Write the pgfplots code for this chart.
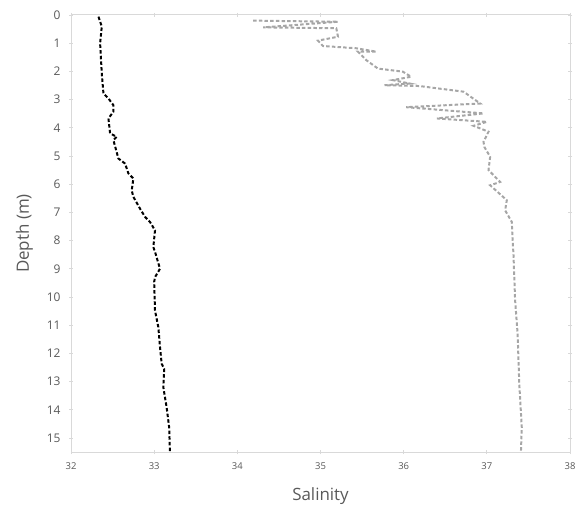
\documentclass[border=0pt]{standalone}
\usepackage{fontspec}
\setmainfont{Open Sans}
\usepackage{pgfplots}
\pgfplotsset{compat=1.18}
\definecolor{txtgray}{HTML}{595959}
\definecolor{axgray}{HTML}{D9D9D9}
\definecolor{sergray}{HTML}{A6A6A6}

\begin{document}
\begin{tikzpicture}[x=1bp,y=1bp]
\path (0,0) rectangle (584,516);
\begin{axis}[
  at={(71bp,64bp)}, anchor=south west,
  scale only axis,
  width=499bp, height=437bp,
  xmin=32, xmax=38,
  ymin=0, ymax=15.5,
  y dir=reverse,
  xtick={32,33,...,38},
  ytick={0,1,...,15},
  axis line style={axgray, line width=1pt},
  tick style={axgray, line width=0.8pt},
  major tick length=4bp,
  tick align=center,
  /pgf/number format/assume math mode=true,
  x tick label style={font=\fontsize{9.5}{10}\selectfont, text=txtgray, yshift=-5bp},
  y tick label style={font=\fontsize{12}{12}\selectfont, text=txtgray, xshift=-5bp},
  xlabel={Salinity},
  ylabel={Depth (m)},
  label style={font=\fontsize{17}{18}\selectfont, text=txtgray},
  xlabel style={yshift=-11bp},
  ylabel style={yshift=7bp},
  clip=false,
]
\addplot[black, line width=2pt, dash pattern=on 3.5pt off 2.2pt] coordinates {
(32.33,0.06) (32.37,0.41) (32.35,1.0) (32.37,2.07) (32.39,2.78) (32.45,2.96)
(32.51,3.2) (32.51,3.43) (32.45,3.67) (32.47,4.2) (32.55,4.32) (32.51,4.44)
(32.57,5.09) (32.65,5.27) (32.69,5.62) (32.75,5.8) (32.73,6.22) (32.75,6.45)
(32.83,6.87) (32.89,7.16) (32.95,7.34) (33.01,7.64) (32.99,8.23) (33.01,8.4)
(33.07,9.0) (33.01,9.3) (33.0,9.47) (33.01,10.48) (33.05,11.07) (33.07,11.78)
(33.09,12.37) (33.12,12.55) (33.11,13.2) (33.15,13.92) (33.18,14.62) (33.19,15.5)
};
\addplot[sergray, line width=2pt, dash pattern=on 3.5pt off 2.2pt] coordinates {
(34.19,0.2) (35.21,0.24) (34.31,0.44) (35.19,0.47) (35.21,0.77) (34.97,0.91)
(35.03,1.1) (35.43,1.18) (35.67,1.3) (35.45,1.3) (35.55,1.6) (35.69,1.9)
(35.99,2.01) (36.09,2.19) (35.87,2.31) (36.07,2.43) (35.77,2.49) (36.19,2.52)
(36.72,2.72) (36.92,3.14) (36.03,3.27) (36.96,3.49) (36.40,3.67) (37.0,3.79)
(36.84,3.93) (37.02,4.14) (36.96,4.5) (36.97,4.68) (37.04,5.03) (37.02,5.5)
(37.16,5.92) (37.04,6.04) (37.24,6.57) (37.22,6.93) (37.30,7.34) (37.31,8.0)
(37.32,8.47) (37.34,10.12) (37.37,11.31) (37.39,13.08) (37.42,14.62) (37.41,15.5)
};
\end{axis}
\end{tikzpicture}
\end{document}
